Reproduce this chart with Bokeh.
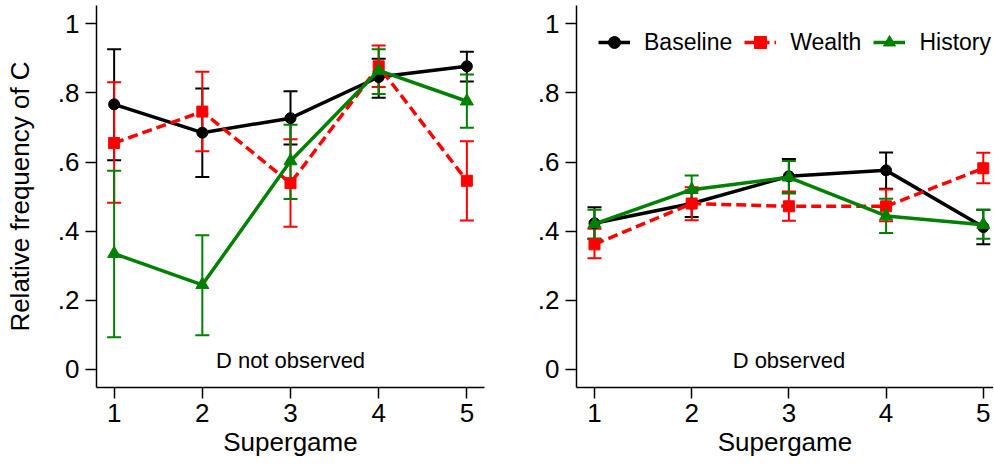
from bokeh.plotting import figure
from bokeh.layouts import row
from bokeh.models import (Whisker, TeeHead, ColumnDataSource, FixedTicker,
                          Range1d, Legend, LegendItem)
from bokeh.core.properties import value
from bokeh.embed import file_html
from bokeh.resources import INLINE

# ---------------- data ----------------
supergames = [1, 2, 3, 4, 5]
x_tick_labels = ["1", "2", "3", "4", "5"]
y_ticks = [0.0, 0.2, 0.4, 0.6, 0.8, 1.0]
y_tick_labels = ["0", ".2", ".4", ".6", ".8", "1"]
series_names = ["Baseline", "Wealth", "History"]
panel_notes = ["D not observed", "D observed"]
y_axis_title = "Relative frequency of C"
x_axis_title = "Supergame"

# D not observed
nobs_baseline = [0.767, 0.685, 0.727, 0.846, 0.877]
nobs_baseline_hi = [0.926, 0.813, 0.805, 0.899, 0.919]
nobs_baseline_lo = [0.605, 0.557, 0.651, 0.786, 0.833]
nobs_wealth = [0.655, 0.746, 0.539, 0.877, 0.546]
nobs_wealth_hi = [0.831, 0.861, 0.666, 0.937, 0.660]
nobs_wealth_lo = [0.482, 0.631, 0.413, 0.817, 0.431]
nobs_history = [0.335, 0.245, 0.603, 0.865, 0.776]
nobs_history_hi = [0.575, 0.388, 0.708, 0.926, 0.853]
nobs_history_lo = [0.093, 0.099, 0.493, 0.797, 0.699]

# D observed
obs_baseline = [0.423, 0.480, 0.559, 0.576, 0.412]
obs_baseline_hi = [0.469, 0.518, 0.609, 0.628, 0.462]
obs_baseline_lo = [0.378, 0.441, 0.510, 0.523, 0.362]
obs_wealth = [0.362, 0.480, 0.472, 0.472, 0.582]
obs_wealth_hi = [0.407, 0.527, 0.515, 0.521, 0.627]
obs_wealth_lo = [0.322, 0.432, 0.430, 0.429, 0.539]
obs_history = [0.421, 0.520, 0.556, 0.444, 0.419]
obs_history_hi = [0.462, 0.561, 0.603, 0.494, 0.462]
obs_history_lo = [0.378, 0.478, 0.510, 0.395, 0.378]

# ---------------- styles ----------------
FONT = "Liberation Sans"
colors = ["#000000", "#ff0000", "#008000"]
dashes = ["solid", "10 5", "solid"]
markers = ["circle", "square", "triangle"]
msizes = [11, 11, 13]

panel_data = [
    [(nobs_baseline, nobs_baseline_lo, nobs_baseline_hi),
     (nobs_wealth, nobs_wealth_lo, nobs_wealth_hi),
     (nobs_history, nobs_history_lo, nobs_history_hi)],
    [(obs_baseline, obs_baseline_lo, obs_baseline_hi),
     (obs_wealth, obs_wealth_lo, obs_wealth_hi),
     (obs_history, obs_history_lo, obs_history_hi)],
]


def make_panel(idx, width, bl, br, xr, ylabel, legend):
    p = figure(width=width, height=465, x_range=Range1d(*xr),
               y_range=Range1d(-0.0521, 1.0529), output_backend="svg",
               toolbar_location=None, min_border_left=bl, min_border_right=br,
               min_border_top=5, min_border_bottom=78)
    p.outline_line_color = None
    p.xgrid.visible = False
    p.ygrid.visible = False
    p.background_fill_color = "white"

    for ax in (p.xaxis[0], p.yaxis[0]):
        ax.axis_line_color = "black"
        ax.axis_line_width = 1.5
        ax.major_tick_line_color = "black"
        ax.major_tick_line_width = 1.5
        ax.major_tick_in = 0
        ax.major_tick_out = 11
        ax.minor_tick_line_color = None
        ax.major_label_text_font = FONT
        ax.major_label_text_font_size = "26px"
        ax.major_label_text_color = "black"
        ax.axis_label_text_font = FONT
        ax.axis_label_text_font_size = "26px"
        ax.axis_label_text_font_style = "normal"
        ax.axis_label_text_color = "black"

    p.xaxis.ticker = FixedTicker(ticks=supergames)
    p.xaxis.major_label_overrides = {t: l for t, l in zip(supergames, x_tick_labels)}
    p.xaxis.axis_label = x_axis_title
    p.xaxis.major_label_standoff = 5
    p.xaxis.axis_label_standoff = 2

    p.yaxis.ticker = FixedTicker(ticks=y_ticks)
    p.yaxis.major_label_overrides = {t: l for t, l in zip(y_ticks, y_tick_labels)}
    p.yaxis.major_label_standoff = 6
    if ylabel:
        p.yaxis.axis_label = y_axis_title
        p.yaxis.axis_label_standoff = 20

    # error bars
    for k, (mean, lo, hi) in enumerate(panel_data[idx]):
        src = ColumnDataSource(dict(x=supergames, y=mean, lo=lo, hi=hi))
        c = colors[k]
        w = Whisker(base="x", lower="lo", upper="hi", source=src,
                    line_color=c, line_width=2,
                    upper_head=TeeHead(size=14, line_color=c, line_width=2),
                    lower_head=TeeHead(size=14, line_color=c, line_width=2))
        p.add_layout(w)

    items = []
    for k, (mean, lo, hi) in enumerate(panel_data[idx]):
        src = ColumnDataSource(dict(x=supergames, y=mean))
        c = colors[k]
        lr = p.line("x", "y", source=src, line_color=c, line_width=3.5,
                    line_dash=dashes[k])
        sr = p.scatter("x", "y", source=src, marker=markers[k], size=msizes[k],
                       fill_color=c, line_color=c)
        items.append(LegendItem(label=series_names[k], renderers=[lr, sr]))

    p.text(x=[3], y=[0.025], text=[panel_notes[idx]], text_align="center",
           text_baseline="alphabetic", text_font=value(FONT),
           text_font_size="22px", text_color="black")

    if legend:
        lg = Legend(items=items, orientation="horizontal", location="top_left",
                    margin=22, padding=0, spacing=12, label_standoff=14,
                    glyph_width=32, glyph_height=30,
                    label_text_font=FONT, label_text_font_size="23px",
                    label_text_color="black", border_line_color=None,
                    background_fill_alpha=0)
        p.add_layout(lg)
    return p


p1 = make_panel(0, 500, 96, 16, (0.8, 5.2), True, False)
p2 = make_panel(1, 493, 76, 0, (0.815, 5.105), False, True)

layout = row(p1, p2)
open("out.html", "w").write(file_html(layout, INLINE))
